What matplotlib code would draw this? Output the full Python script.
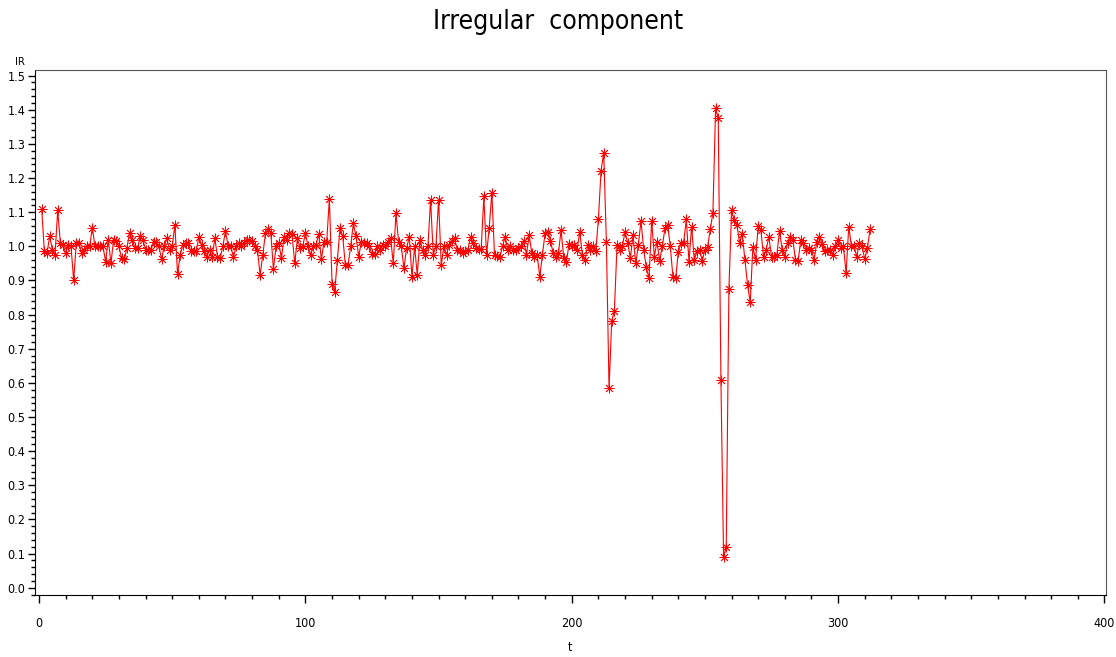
import matplotlib
matplotlib.use("Agg")
import matplotlib.pyplot as plt
from matplotlib import font_manager
from matplotlib.ticker import MultipleLocator, FormatStrFormatter

# irregular component IR, t = 1..312
ir_values = [
    1.11, 0.985, 0.98, 1.03, 0.99, 0.975, 1.105, 1.01, 1.005, 0.98,
    1.005, 1.0, 0.90, 1.01, 1.01, 0.98, 0.99, 1.0, 1.0, 1.055,
    1.0, 1.0, 1.0, 1.0, 0.955, 1.02, 0.95, 1.02, 1.015, 1.0,
    0.965, 0.962, 0.995, 1.04, 1.02, 0.995, 0.995, 1.03, 1.02, 0.99,
    0.99, 0.99, 1.013, 1.013, 1.0, 0.962, 1.0, 1.023, 0.99, 1.0,
    1.062, 0.92, 0.975, 1.005, 1.01, 1.01, 0.985, 0.985, 0.985, 1.028,
    1.005, 0.985, 0.97, 0.99, 0.97, 1.023, 0.97, 0.965, 1.0, 1.045,
    1.0, 1.0, 0.968, 1.0, 1.01, 1.0, 1.01, 1.02, 1.019, 1.015,
    1.0, 0.99, 0.916, 0.975, 1.038, 1.05, 1.04, 0.933, 1.0, 1.01,
    0.965, 1.028, 1.02, 1.038, 1.035, 0.95, 1.023, 0.995, 1.0, 1.038,
    1.0, 0.975, 1.0, 1.005, 1.036, 0.962, 1.013, 1.013, 1.14, 0.891,
    0.867, 0.96, 1.053, 1.03, 0.945, 0.945, 1.0, 1.067, 1.03, 0.97,
    1.013, 1.01, 1.01, 1.0, 0.977, 0.977, 1.0, 0.99, 1.005, 1.0,
    1.013, 1.023, 0.95, 1.097, 1.013, 1.0, 0.936, 0.995, 1.028, 0.911,
    1.0, 0.916, 1.02, 0.99, 0.975, 1.0, 1.136, 0.975, 1.0, 1.136,
    0.945, 1.0, 0.975, 1.005, 1.017, 1.024, 0.99, 0.99, 0.98, 0.985,
    0.99, 1.028, 1.01, 0.996, 0.993, 0.993, 1.146, 0.975, 1.053, 1.157,
    0.975, 0.972, 0.968, 1.0, 1.028, 0.99, 1.0, 0.99, 0.99, 0.995,
    1.0, 1.017, 0.975, 1.033, 0.98, 0.968, 0.975, 0.911, 0.975, 1.04,
    1.043, 1.017, 0.98, 0.968, 0.98, 1.048, 0.965, 0.955, 1.008, 1.0,
    1.003, 0.99, 1.043, 0.975, 0.96, 1.004, 0.99, 1.0, 0.985, 1.079,
    1.222, 1.273, 1.014, 0.584, 0.78, 0.81, 1.004, 0.99, 1.0, 1.043,
    1.01, 0.965, 1.033, 0.95, 1.004, 1.075, 0.99, 0.938, 0.906, 1.075,
    0.97, 1.014, 0.958, 1.0, 1.053, 1.063, 1.0, 0.909, 0.906, 0.984,
    1.009, 1.01, 1.079, 0.955, 1.058, 0.96, 0.985, 0.99, 0.958, 0.99,
    0.999, 1.05, 1.099, 1.405, 1.375, 0.609, 0.091, 0.118, 0.875, 1.105,
    1.077, 1.063, 1.01, 1.036, 0.96, 0.887, 0.836, 0.999, 0.96, 1.06,
    1.048, 0.97, 0.99, 1.028, 0.97, 0.97, 0.975, 1.046, 0.99, 0.97,
    1.01, 1.028, 1.02, 0.96, 0.958, 1.019, 1.01, 0.99, 0.996, 0.99,
    0.96, 1.013, 1.028, 1.008, 0.985, 0.99, 0.99, 0.975, 1.0, 1.02,
    0.995, 1.0, 0.921, 1.058, 1.0, 1.0, 0.97, 1.01, 1.0, 0.962,
    0.995, 1.05,
]
t_values = list(range(1, len(ir_values) + 1))

title_text = "Irregular  component"
x_label = "t"
y_label = "IR"

installed = {f.name for f in font_manager.fontManager.ttflist}
narrow = "Liberation Sans Narrow" if "Liberation Sans Narrow" in installed else "DejaVu Sans"

fig = plt.figure(figsize=(11.16, 6.57), dpi=100)
ax = fig.add_axes([0.0314, 0.0944, 0.9597, 0.7998])

ax.plot(t_values, ir_values, color="red", lw=0.8, marker=(8, 2, 0),
        markersize=7, markeredgewidth=0.6, markeredgecolor="red")

ax.set_xlim(-1.5, 400.6)
ax.set_ylim(-0.0214, 1.518)

ax.xaxis.set_major_locator(MultipleLocator(100))
ax.xaxis.set_minor_locator(MultipleLocator(10))
ax.yaxis.set_major_locator(MultipleLocator(0.1))
ax.yaxis.set_minor_locator(MultipleLocator(0.02))
ax.yaxis.set_major_formatter(FormatStrFormatter("%.1f"))

ax.tick_params(axis="both", which="major", direction="out", length=5, width=1)
ax.tick_params(axis="both", which="minor", direction="out", length=3, width=1)
ax.tick_params(axis="x", which="major", pad=10, length=6)
ax.tick_params(axis="y", which="major", pad=2)

for lab in ax.get_xticklabels() + ax.get_yticklabels():
    lab.set_family(narrow)
    lab.set_stretch("condensed")
    lab.set_fontsize(9)

for side in ["left", "bottom"]:
    ax.spines[side].set_color("black")
for side in ["top", "right"]:
    ax.spines[side].set_color("#555555")

fig.text(0.5, 0.966, title_text, ha="center", va="center", fontsize=19,
         family=narrow, stretch="condensed", weight="light")
fig.text(0.511, 0.014, x_label, ha="center", va="center", fontsize=9,
         family=narrow, stretch="condensed")
fig.text(0.018, 0.905, y_label, ha="center", va="center", fontsize=8,
         family=narrow, stretch="condensed")

fig.savefig("out.png", dpi=100)
